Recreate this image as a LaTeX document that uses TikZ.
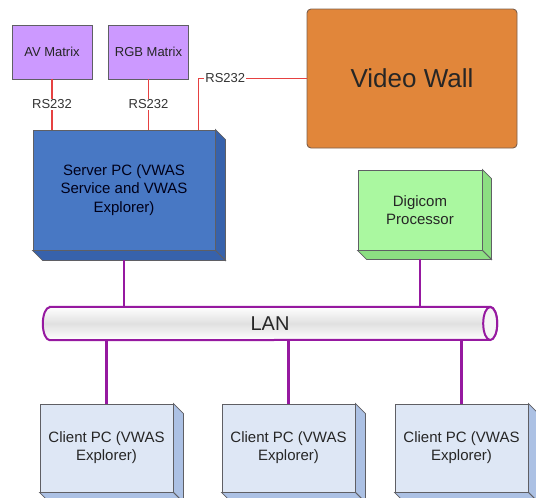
\documentclass[tikz,border=0pt]{standalone}
\usepackage{fontspec}
\setmainfont{Liberation Sans}
\usepackage{tikz}
\usetikzlibrary{calc,backgrounds}

\definecolor{edgegray}{RGB}{95,95,100}
\definecolor{matrixfill}{RGB}{204,153,255}
\definecolor{wallfill}{RGB}{225,134,58}
\definecolor{walledge}{RGB}{125,95,75}
\definecolor{serverfill}{RGB}{72,120,196}
\definecolor{serverside}{RGB}{55,98,172}
\definecolor{digifill}{RGB}{170,248,160}
\definecolor{digiside}{RGB}{140,222,130}
\definecolor{clientfill}{RGB}{222,231,245}
\definecolor{clientside}{RGB}{172,193,228}
\definecolor{rsred}{RGB}{230,65,65}
\definecolor{lanpurple}{RGB}{150,25,160}

% depth faces of a box node
\newcommand{\boxside}[3]{%
  \filldraw[fill=#2,draw=edgegray,line width=0.8pt] (#1.north east) -- ++(#3,#3) -- ($(#1.south east)+(#3,#3)$) -- (#1.south east) -- cycle;
  \filldraw[fill=#2,draw=edgegray,line width=0.8pt] (#1.south west) -- ++(#3,#3) -- ($(#1.south east)+(#3,#3)$) -- (#1.south east) -- cycle;
}

\begin{document}
\begin{tikzpicture}[x=1pt,y=-1pt,
  box/.style={draw=edgegray,line width=0.9pt,inner sep=0pt,align=center,text=black!85},
  matrixbox/.style={box,fill=matrixfill,minimum width=80pt,minimum height=54pt,font=\fontsize{13}{15.6}\selectfont},
  wallbox/.style={box,draw=walledge,fill=wallfill,rounded corners=4pt,minimum width=210pt,minimum height=139pt,font=\fontsize{26}{30}\selectfont},
  serverbox/.style={box,fill=serverfill,text=black!90!blue,minimum width=182pt,minimum height=120pt,font=\fontsize{15}{18.3}\selectfont},
  digibox/.style={box,fill=digifill,minimum width=124pt,minimum height=80pt,font=\fontsize{15}{18}\selectfont},
  clientbox/.style={box,fill=clientfill,minimum width=133pt,minimum height=88pt,font=\fontsize{15}{18}\selectfont},
  lanbox/.style={inner sep=0pt,minimum width=454pt,minimum height=33pt,font=\fontsize{20}{24}\selectfont,text=black!85},
  pipe/.style={draw=lanpurple,line width=2pt,top color=white,bottom color=white,middle color=black!12},
  rsline/.style={draw=rsred,line width=1.3pt},
  rslabel/.style={fill=white,inner sep=1pt,text=black!80,font=\fontsize{13}{15.6}\selectfont},
  lanline/.style={draw=lanpurple,line width=2.2pt}]
\useasboundingbox (0,0) rectangle (536,498);

% Top devices
\node[matrixbox] (av) at (52,52) {AV Matrix};
\node[matrixbox] (rgb) at (148.5,52) {RGB Matrix};
\node[wallbox] (vwall) at (412,78.5) {Video Wall};

% Server and Digicom
\node[serverbox] (server) at (124,190) {Server PC (VWAS\\Service and VWAS\\Explorer)};
\boxside{server}{serverside}{10}
\node[digibox] (digicom) at (420,210) {Digicom\\Processor};
\boxside{digicom}{digiside}{9}

% LAN
\node[lanbox] (lan) at (270,323.5) {LAN};
\begin{scope}[on background layer]
\draw[pipe] ([xshift=7pt]lan.north west) -- ([xshift=-7pt]lan.north east)
  arc[start angle=90,end angle=-90,x radius=7pt,y radius=16.5pt]
  -- ([xshift=7pt]lan.south west)
  arc[start angle=270,end angle=90,x radius=7pt,y radius=16.5pt] -- cycle;
\draw[draw=lanpurple,line width=2pt,fill=black!4] ([xshift=-7pt]lan.east) ellipse[x radius=7pt,y radius=16.5pt];
\end{scope}

% Clients
\foreach \cx/\nm in {106.5/clienta,288.5/clientb,461.5/clientc}{
  \node[clientbox] (\nm) at (\cx,448) {Client PC (VWAS\\Explorer)};
  \boxside{\nm}{clientside}{10}
  \draw[lanline] (lan.south -| \nm.north) -- (\nm.north);
}

% RS232 links
\draw[rsline] (av.south) -- (av.south |- server.north) node[rslabel,midway] {RS232};
\draw[rsline] (rgb.south) -- (rgb.south |- server.north) node[rslabel,midway] {RS232};
\coordinate (srvport) at ([xshift=-17pt]server.north east);
\draw[rsline] (srvport) |- (vwall.west) node[rslabel,pos=0.624] {RS232};

% LAN links
\draw[lanline] ([yshift=-10pt]server.south) -- (server.south |- lan.north);
\draw[lanline] ([yshift=-9pt]digicom.south) -- (digicom.south |- lan.north);
\end{tikzpicture}
\end{document}
